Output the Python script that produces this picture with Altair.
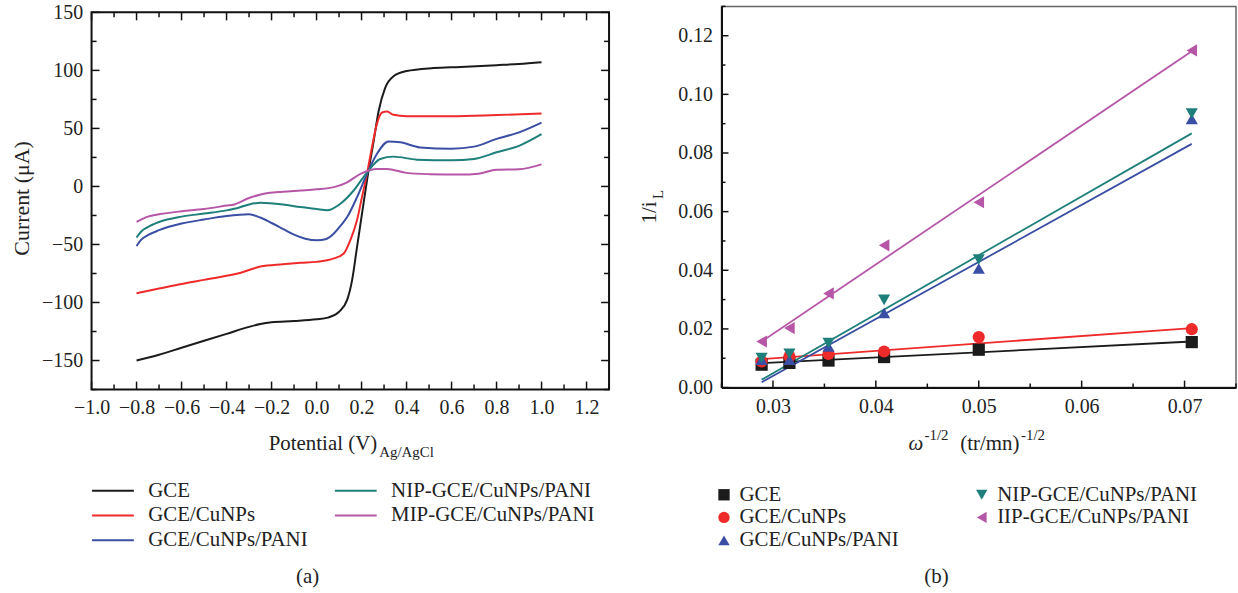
import altair as alt
import pandas as pd

FONT = "Liberation Serif"
TXT = "#222222"

# ---------------- panel (a): linear sweep voltammograms ----------------
a_names = ["GCE", "GCE/CuNPs", "GCE/CuNPs/PANI", "NIP-GCE/CuNPs/PANI", "MIP-GCE/CuNPs/PANI"]
a_colors = ["#1b1b1b", "#ee2a2a", "#3a4ea3", "#1e7f7b", "#b656a7"]

gce_v = [-0.8, -0.7, -0.6, -0.5, -0.4, -0.3, -0.25, -0.2, -0.1, 0.0, 0.05, 0.1, 0.136, 0.158, 0.18,
         0.202, 0.224, 0.254, 0.276, 0.305, 0.342, 0.40, 0.52, 0.64, 0.8, 0.9, 1.0]
gce_i = [-150, -145, -139, -133, -127, -121, -118.5, -117, -116, -114.5, -113, -108, -97.8, -80.7, -52,
         -23.5, 5, 39.4, 65, 85, 95, 99.4, 102, 103, 104.5, 105.5, 107]

cu_v = [-0.8, -0.7, -0.6, -0.5, -0.4, -0.35, -0.3, -0.25, -0.15, -0.07, 0.0, 0.077, 0.121, 0.15, 0.18,
        0.202, 0.224, 0.246, 0.268, 0.291, 0.313, 0.342, 0.40, 0.6, 0.8, 1.0]
cu_i = [-92, -88, -84, -80.5, -77, -75, -72, -69, -67, -65.8, -65, -62, -57.8, -46.4, -29,
        -9, 10.8, 33.6, 53.7, 63.7, 64.5, 61.7, 60.5, 60.5, 61.5, 62.8]

pani_v = [-0.8, -0.78, -0.75, -0.7, -0.6, -0.5, -0.4, -0.3, -0.25, -0.2, -0.15, -0.1, -0.05, 0.003,
          0.04, 0.077, 0.106, 0.136, 0.18, 0.224, 0.268, 0.32, 0.372, 0.46, 0.6, 0.7, 0.8, 0.9, 1.0]
pani_i = [-51.4, -46, -42, -37.7, -32, -28.5, -25.5, -24, -26.8, -31.5, -36.5, -41.5, -45, -46.4,
          -45.5, -40.6, -34, -26.4, -9.2, 10.8, 28, 38.8, 38, 33.6, 32.5, 34.3, 41, 46.6, 55]

nip_v = [-0.8, -0.78, -0.75, -0.7, -0.6, -0.5, -0.4, -0.35, -0.3, -0.248, -0.15, -0.071, 0.0, 0.047,
         0.106, 0.165, 0.224, 0.283, 0.342, 0.445, 0.6, 0.7, 0.8, 0.9, 1.0]
nip_i = [-44, -39, -35, -30.6, -26, -23.4, -20.6, -18.5, -15.5, -14, -15.5, -17.8, -19.5, -20.6,
         -14.9, -3.5, 12, 23.7, 25.7, 23.1, 22.5, 23.7, 29.4, 35, 45]

mip_v = [-0.8, -0.75, -0.7, -0.6, -0.5, -0.4, -0.366, -0.3, -0.248, -0.15, -0.071, 0.0, 0.077, 0.136,
         0.195, 0.268, 0.313, 0.401, 0.5, 0.637, 0.72, 0.8, 0.9, 1.0]
mip_i = [-30.6, -26, -24, -21.4, -19.5, -16.5, -15.5, -10, -6.9, -4.5, -3.5, -2.5, -0.6, 3.6,
         10.8, 15.1, 15, 11.7, 10.6, 10.2, 11, 14.3, 14.8, 19]

a_xmajor = [-1.0, -0.8, -0.6, -0.4, -0.2, 0.0, 0.2, 0.4, 0.6, 0.8, 1.0, 1.2]
a_xminor = [-0.9, -0.7, -0.5, -0.3, -0.1, 0.1, 0.3, 0.5, 0.7, 0.9, 1.1, 1.3]
a_ymajor = [-150, -100, -50, 0, 50, 100, 150]
a_yminor = [-175, -125, -75, -25, 25, 75, 125]

# ---------------- panel (b): Koutecky-Levich plots ----------------
b_x = [0.0289, 0.0316, 0.0354, 0.0408, 0.0500, 0.0707]
b_gce = [0.0078, 0.0084, 0.0092, 0.0104, 0.0129, 0.0155]
b_cu = [0.0089, 0.0106, 0.0115, 0.0123, 0.0172, 0.0199]
b_pani = [0.0095, 0.0095, 0.0140, 0.0254, 0.0406, 0.0916]
b_nip = [0.0101, 0.0115, 0.0152, 0.0299, 0.0437, 0.0935]
b_iip = [0.0157, 0.0203, 0.0321, 0.0485, 0.0632, 0.1150]

fit_x = [0.0289, 0.0707]
fit_gce = [0.0083, 0.0157]
fit_cu = [0.0097, 0.0203]
fit_pani = [0.0018, 0.0831]
fit_nip = [0.0027, 0.0867]
fit_iip = [0.0157, 0.1147]

b_names = ["GCE", "GCE/CuNPs", "GCE/CuNPs/PANI", "NIP-GCE/CuNPs/PANI", "IIP-GCE/CuNPs/PANI"]
b_colors = ["#1b1b1b", "#ee2a2a", "#3a4ea3", "#1e7f7b", "#b656a7"]
b_shapes = ["square", "circle", "triangle-up", "triangle-down", "triangle-left"]

b_xmajor = [0.03, 0.04, 0.05, 0.06, 0.07]
b_xminor = [0.025, 0.035, 0.045, 0.055, 0.065, 0.075]
b_ymajor = [0.0, 0.02, 0.04, 0.06, 0.08, 0.10, 0.12]
b_yminor = [0.01, 0.03, 0.05, 0.07, 0.09, 0.11, 0.13]

# ---------------- tables ----------------
rows = []
for name, vs, cs in zip(a_names, [gce_v, cu_v, pani_v, nip_v, mip_v], [gce_i, cu_i, pani_i, nip_i, mip_i]):
    for v, c in zip(vs, cs):
        rows.append({"series": name, "V": v, "I": c})
cv_df = pd.DataFrame(rows)

rows = []
for name, ys in zip(b_names, [b_gce, b_cu, b_pani, b_nip, b_iip]):
    for xv, yv in zip(b_x, ys):
        rows.append({"series": name, "x": xv, "y": yv})
kl_df = pd.DataFrame(rows)

fit_tables = []
for name, ys in zip(b_names, [fit_gce, fit_cu, fit_pani, fit_nip, fit_iip]):
    fit_tables.append(pd.DataFrame({"x": fit_x, "y": ys}))

# ---------------- helpers ----------------
axis_common = dict(labelFont=FONT, labelFontSize=20, labelColor=TXT, tickSize=0, domain=False,
                   grid=False, title=None, labelOverlap=False, labelFlush=False)


def xticks(vals, field, scale, axis, H, length, top=False):
    y0, y1 = (0, length) if top else (H, H - length)
    return alt.Chart(pd.DataFrame({field: vals})).mark_rule(color="#111", strokeWidth=1.5).encode(
        x=alt.X(f"{field}:Q", scale=scale, axis=axis), y=alt.value(y0), y2=alt.value(y1))


def yticks(vals, field, scale, axis, W, length, right=False):
    x0, x1 = (W, W - length) if right else (0, length)
    return alt.Chart(pd.DataFrame({field: vals})).mark_rule(color="#111", strokeWidth=1.5).encode(
        y=alt.Y(f"{field}:Q", scale=scale, axis=axis), x=alt.value(x0), x2=alt.value(x1))


def label(text, x, y, size=21, angle=0, align="center", style="normal"):
    return alt.Chart(pd.DataFrame({"t": [text]})).mark_text(
        font=FONT, fontSize=size, color=TXT, angle=angle, align=align, baseline="middle", fontStyle=style
    ).encode(text="t:N", x=alt.value(x), y=alt.value(y))


# ---------------- panel (a) chart ----------------
W1, H1 = 520, 379
sx1 = alt.Scale(domain=[-1.0, 1.3], nice=False, zero=False)
sy1 = alt.Scale(domain=[-175, 150], nice=False, zero=False)
ax1x = alt.Axis(values=a_xmajor, format=".1f", labelPadding=8, **axis_common)
ax1y = alt.Axis(values=a_ymajor, format="d", labelPadding=9, **axis_common)

cv = alt.Chart(cv_df).mark_line(strokeWidth=2, interpolate="monotone").encode(
    x=alt.X("V:Q", scale=sx1, axis=ax1x),
    y=alt.Y("I:Q", scale=sy1, axis=ax1y),
    color=alt.Color("series:N", sort=a_names, scale=alt.Scale(domain=a_names, range=a_colors),
                    legend=alt.Legend(orient="none", legendX=11, legendY=476, title=None, columns=2,
                                      direction="vertical", symbolType="M-3,0H3", symbolSize=196,
                                      symbolStrokeWidth=2, labelFont=FONT, labelFontSize=21,
                                      labelColor=TXT, labelOffset=25, columnPadding=22, rowPadding=3,
                                      labelLimit=500, padding=0)),
)

left = alt.layer(
    cv,
    xticks(a_xmajor, "V", sx1, ax1x, H1, 8), xticks(a_xminor, "V", sx1, ax1x, H1, 5),
    xticks(a_xmajor, "V", sx1, ax1x, H1, 8, top=True), xticks(a_xminor, "V", sx1, ax1x, H1, 5, top=True),
    yticks(a_ymajor, "I", sy1, ax1y, W1, 8), yticks(a_yminor, "I", sy1, ax1y, W1, 5),
    yticks(a_ymajor, "I", sy1, ax1y, W1, 8, right=True), yticks(a_yminor, "I", sy1, ax1y, W1, 5, right=True),
    label("Current (μA)", -70, 187, size=22, angle=270),
    label("Potential (V)", 287, 434, align="right"),
    label("Ag/AgCl", 289, 442, size=15, align="left"),
    label("(a)", 217, 567),
).properties(width=W1, height=H1, view=alt.ViewBackground(stroke="#111", strokeWidth=2, fill="white"))

# a blank strip above panel (a) so that its frame sits a little lower than panel (b)'s
blank = alt.Chart(pd.DataFrame({"t": [0]})).mark_rule(opacity=0).encode(
    x=alt.value(0), x2=alt.value(1), y=alt.value(0)
).properties(width=W1, height=1, view=alt.ViewBackground(strokeOpacity=0, fillOpacity=0))

left_col = alt.vconcat(blank, left, spacing=5, bounds="flush")

# ---------------- panel (b) chart ----------------
W2, H2 = 517, 383
sx2 = alt.Scale(domain=[0.025, 0.075], nice=False, zero=False)
sy2 = alt.Scale(domain=[0.0, 0.13], nice=False, zero=False)

ax_b = dict(axis_common)
ax_b.update(domain=True, domainColor="#111", domainWidth=2)
ax2x = alt.Axis(values=b_xmajor, format=".2f", labelPadding=9, **ax_b)
ax2y = alt.Axis(values=b_ymajor, format=".2f", labelPadding=9, **ax_b)

fit_layers = [
    alt.Chart(tbl).mark_line(strokeWidth=1.8, color=col).encode(
        x=alt.X("x:Q", scale=sx2, axis=ax2x), y=alt.Y("y:Q", scale=sy2, axis=ax2y))
    for tbl, col in zip(fit_tables, b_colors)
]

leg_b = dict(orient="none", legendX=-8, legendY=480, title=None, columns=2, direction="vertical",
             symbolSize=130, labelFont=FONT, labelFontSize=21, labelColor=TXT, labelOffset=5,
             columnPadding=72, rowPadding=1, labelLimit=500, padding=0, symbolStrokeWidth=0)

pts = alt.Chart(kl_df).mark_point(filled=True, size=150, opacity=1).encode(
    x=alt.X("x:Q", scale=sx2, axis=ax2x),
    y=alt.Y("y:Q", scale=sy2, axis=ax2y),
    color=alt.Color("series:N", sort=b_names, scale=alt.Scale(domain=b_names, range=b_colors),
                    legend=alt.Legend(**leg_b)),
    shape=alt.Shape("series:N", sort=b_names, scale=alt.Scale(domain=b_names, range=b_shapes),
                    legend=alt.Legend(**leg_b)),
)

right = alt.layer(
    *fit_layers, pts,
    xticks(b_xmajor, "x", sx2, ax2x, H2, 7), xticks(b_xminor, "x", sx2, ax2x, H2, 4),
    yticks(b_ymajor, "y", sy2, ax2y, W2, 7), yticks(b_yminor, "y", sy2, ax2y, W2, 4),
    label("1/i", -72, 207, angle=270),
    label("L", -64, 189, size=15, angle=270),
    label("ω", 188, 440, align="left", style="italic"),
    label("-1/2", 204, 431, size=15, align="left"),
    label("(tr/mn)", 240, 440, align="left"),
    label("-1/2", 301, 431, size=15, align="left"),
    label("(b)", 216, 573),
).properties(width=W2, height=H2, view=alt.ViewBackground(stroke="#666", strokeWidth=1.5, fill="white"))

chart = alt.hconcat(left_col, right, spacing=27).resolve_scale(
    color="independent", shape="independent"
).resolve_legend(color="independent", shape="independent").properties(
    padding={"left": 10, "top": 0, "right": 0, "bottom": 0}, background="white"
)

chart.save("out.html", embed_options={"renderer": "svg", "actions": False})
